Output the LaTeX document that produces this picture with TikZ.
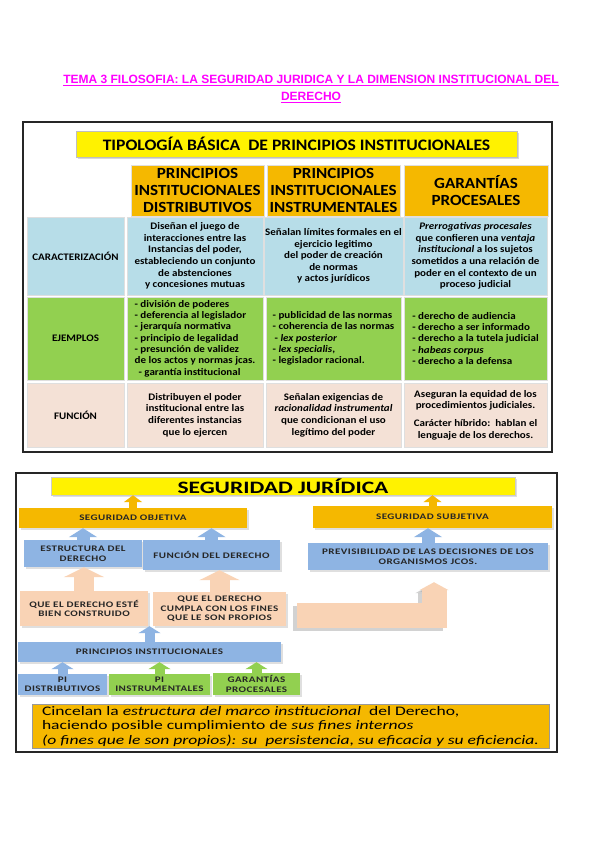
\documentclass[tikz,border=0pt]{standalone}
\usepackage{fontspec}
\setmainfont{Carlito}
\newfontfamily\tablefont[FakeStretch=1.1]{Carlito}
\newfontfamily\smartfont[FakeStretch=1.3,LetterSpace=5]{Carlito}
\newfontfamily\widefont[FakeStretch=1.35]{Carlito}
\newfontfamily\titlefont{Liberation Sans}
\usepackage{xcolor}
\usepackage{tikz}
\usetikzlibrary{arrows.meta,positioning,calc,shadows}
\definecolor{temamagenta}{HTML}{FF00FF}
\definecolor{headorange}{HTML}{F5B800}
\definecolor{caractblue}{HTML}{B7DDE8}
\definecolor{ejemgreen}{HTML}{92D050}
\definecolor{funcpeach}{HTML}{F4E1D6}
\definecolor{smartblue}{HTML}{8EB4E3}
\definecolor{smartpeach}{HTML}{F9D3B5}

\begin{document}
\begin{tikzpicture}[
    x=1pt, y=-1pt,
    >=Latex,
    temabox/.style={text=temamagenta, inner sep=0pt, font=\titlefont\bfseries\fontsize{12}{15}\selectfont},
    framebox/.style={draw=black!85, line width=2.6pt, fill=white},
    tabletitle/.style={fill=yellow, draw=black!25, inner sep=0pt, font=\tablefont\bfseries\fontsize{16}{18}\selectfont},
    headbox/.style={fill=headorange, draw=white!75!gray, align=center, inner sep=1pt, font=\tablefont\bfseries\fontsize{15.5}{17}\selectfont},
    cellbox/.style={draw=white!75!gray, align=center, inner sep=1pt, font=\tablefont\bfseries\fontsize{10}{11.6}\selectfont},
    caractbox/.style={cellbox, fill=caractblue},
    ejembox/.style={cellbox, fill=ejemgreen, align=left, font=\tablefont\bfseries\fontsize{10}{11.3}\selectfont},
    funcbox/.style={cellbox, fill=funcpeach},
    smartbox/.style={align=center, inner sep=1pt, text=black!85, font=\smartfont\bfseries\fontsize{8.5}{9.5}\selectfont, drop shadow={opacity=0.25, shadow xshift=1.5pt, shadow yshift=-1.5pt}},
    segbox/.style={smartbox, fill=headorange},
    bluebox/.style={smartbox, fill=smartblue},
    peachbox/.style={smartbox, fill=smartpeach},
    greenbox/.style={smartbox, fill=ejemgreen},
    notebox/.style={fill=headorange, draw=black!40, align=left, inner sep=2pt, font=\widefont\fontsize{13}{14.5}\selectfont},
    blockarrow/.style n args={4}{draw=#1, line width=#2, -{Triangle[width=#3, length=#4]}}
]
\fill[white] (0,0) rectangle (600,848);

% title
\node[temabox, anchor=base] (tema) at (311,84) {\underline{TEMA 3 FILOSOFIA: LA SEGURIDAD JURIDICA Y LA DIMENSION INSTITUCIONAL DEL}};
\node[temabox, anchor=base] (temader) at (311,101) {\underline{DERECHO}};

% table
\draw[framebox] (23,122) rectangle (552,452);
\node[tabletitle, minimum width=441pt, minimum height=26pt, drop shadow={opacity=0.3, shadow xshift=1.5pt, shadow yshift=-1.5pt}] (tipo) at (296.5,144) {TIPOLOGÍA BÁSICA\ \ DE PRINCIPIOS INSTITUCIONALES};

\node[headbox, minimum width=133pt, minimum height=51pt] (hdist) at (197.5,190.5) {PRINCIPIOS\\INSTITUCIONALES\\DISTRIBUTIVOS};
\node[headbox, minimum width=133pt, minimum height=51pt] (hinst) at (333.5,190.5) {PRINCIPIOS\\INSTITUCIONALES\\INSTRUMENTALES};
\node[headbox, minimum width=144pt, minimum height=51pt] (hgar) at (476,190.5) {GARANTÍAS\\PROCESALES};

\node[caractbox, minimum width=97pt, minimum height=78pt] (lcar) at (75.5,256) {CARACTERIZACIÓN};
\node[caractbox, minimum width=136pt, minimum height=78pt] (cdist) at (195,256) {Diseñan el juego de\\interacciones entre las\\Instancias del poder,\\estableciendo un conjunto\\de abstenciones\\y concesiones mutuas};
\node[caractbox, minimum width=135pt, minimum height=78pt] (cinst) at (333.5,256) {Señalan límites formales en el\\ejercicio legitimo\\del poder de creación\\de normas\\y actos jurídicos};
\node[caractbox, minimum width=143pt, minimum height=78pt] (cgar) at (475.5,256) {\textit{Prerrogativas procesales}\\que confieren una \textit{ventaja}\\\textit{institucional} a los sujetos\\sometidos a una relación de\\poder en el contexto de un\\proceso judicial};

\node[ejembox, align=center, minimum width=97pt, minimum height=83pt] (lejem) at (75.5,338.5) {EJEMPLOS};
\node[ejembox, minimum width=136pt, minimum height=83pt] (edist) at (195,338.5) {- división de poderes\\- deferencia al legislador\\- jerarquía normativa\\- principio de legalidad\\- presunción de validez\\de los actos y normas jcas.\\\hspace{4pt}- garantía institucional};
\node[ejembox, minimum width=135pt, minimum height=83pt] (einst) at (333.5,338.5) {- publicidad de las normas\\- coherencia de las normas\\\hspace{2pt}- \textit{lex posterior}\\- \textit{lex specialis},\\- legislador racional.};
\node[ejembox, minimum width=143pt, minimum height=83pt] (egar) at (475.5,338.5) {- derecho de audiencia\\- derecho a ser informado\\- derecho a la tutela judicial\\- \textit{habeas corpus}\\- derecho a la defensa};

\node[funcbox, minimum width=97pt, minimum height=64pt] (lfunc) at (75.5,415) {FUNCIÓN};
\node[funcbox, minimum width=136pt, minimum height=64pt] (fdist) at (195,415) {Distribuyen el poder\\institucional entre las\\diferentes instancias\\que lo ejercen};
\node[funcbox, minimum width=135pt, minimum height=64pt] (finst) at (333.5,415) {Señalan exigencias de\\\textit{racionalidad instrumental}\\que condicionan el uso\\legítimo del poder};
\node[funcbox, minimum width=143pt, minimum height=64pt] (fgar) at (475.5,415) {Aseguran la equidad de los\\procedimientos judiciales.\\[6pt]Carácter híbrido:\ \ hablan el\\lenguaje de los derechos.};

% seguridad juridica
\draw[framebox] (16,473) rectangle (557,752);
\node[fill=yellow, draw=black!20, inner sep=0pt, minimum width=464pt, minimum height=18pt, font=\widefont\bfseries\fontsize{17.4}{20}\selectfont, drop shadow={opacity=0.25, shadow xshift=1.5pt, shadow yshift=-1.5pt}] (segjur) at (283,486) {SEGURIDAD JURÍDICA};

\node[segbox, minimum width=228pt, minimum height=20pt] (segobj) at (133,518) {SEGURIDAD OBJETIVA};
\node[segbox, minimum width=239pt, minimum height=22pt] (segsubj) at (432.5,517) {SEGURIDAD SUBJETIVA};
\node[bluebox, minimum width=118pt, minimum height=27pt] (estruc) at (83,553.5) {ESTRUCTURA DEL\\DERECHO};
\node[bluebox, minimum width=137pt, minimum height=30pt] (funcder) at (211.5,555) {FUNCIÓN DEL DERECHO};
\node[bluebox, minimum width=240pt, minimum height=27pt] (previs) at (428,556.5) {PREVISIBILIDAD DE LAS DECISIONES DE LOS\\ORGANISMOS JCOS.};
\node[peachbox, minimum width=128pt, minimum height=35pt] (construido) at (84,608.5) {QUE EL DERECHO ESTÉ\\BIEN CONSTRUIDO};
\node[peachbox, minimum width=133pt, minimum height=34pt] (cumpla) at (219.5,609) {QUE EL DERECHO\\CUMPLA CON LOS FINES\\QUE LE SON PROPIOS};
\node[bluebox, minimum width=263pt, minimum height=20pt] (princip) at (149.5,652) {PRINCIPIOS INSTITUCIONALES};
\node[bluebox, minimum width=89pt, minimum height=21pt] (pidist) at (62.5,684.5) {PI\\DISTRIBUTIVOS};
\node[greenbox, minimum width=101pt, minimum height=21pt] (piinst) at (159.5,684.5) {PI\\INSTRUMENTALES};
\node[greenbox, minimum width=87pt, minimum height=22pt] (garant) at (256.5,684) {GARANTÍAS\\PROCESALES};

\node[notebox, minimum width=517pt, minimum height=43pt] (cincelan) at (290.5,726.5) {Cincelan la \textit{estructura del marco institucional}\ \ del Derecho,\\haciendo posible cumplimiento de \textit{sus fines internos}\\\textit{(o fines que le son propios): su\ \ persistencia, su eficacia y su eficiencia.}};

% block arrows
\draw[blockarrow={headorange}{8pt}{18pt}{7pt}] (segobj.north) -- (segobj.north |- segjur.south);
\draw[blockarrow={headorange}{8pt}{18pt}{7pt}] (segsubj.north) -- (segsubj.north |- segjur.south);
\draw[blockarrow={smartblue}{13pt}{28pt}{9pt}] (estruc.north) -- (estruc.north |- segobj.south);
\draw[blockarrow={smartblue}{13pt}{28pt}{9pt}] (funcder.north) -- (funcder.north |- segobj.south);
\draw[blockarrow={smartblue}{13pt}{28pt}{9pt}] (previs.north) -- (previs.north |- segsubj.south);
\draw[blockarrow={smartpeach}{20pt}{40pt}{10pt}] (construido.north) -- (construido.north |- estruc.south);
\draw[blockarrow={smartpeach}{20pt}{40pt}{10pt}] (cumpla.north) -- (cumpla.north |- funcder.south);
\draw[blockarrow={smartblue}{10pt}{22pt}{7pt}] (princip.north) -- (princip.north |- cumpla.south);
\draw[blockarrow={smartblue}{10pt}{22pt}{7pt}] (pidist.north) -- (pidist.north |- princip.south);
\draw[blockarrow={ejemgreen}{10pt}{22pt}{7pt}] (piinst.north) -- (piinst.north |- princip.south);
\draw[blockarrow={ejemgreen}{10pt}{22pt}{7pt}] (garant.north) -- (garant.north |- princip.south);

% bent arrow towards previsibilidad
\coordinate (bendstart) at ([xshift=11pt, yshift=-6pt]cumpla.east);
\coordinate (bendtip) at ([xshift=6pt, yshift=-12pt]previs.south);
\draw[blockarrow={black!35}{25pt}{29pt}{8pt}, opacity=0.5, transform canvas={xshift=-4pt, yshift=-3pt}] (bendstart) -| (bendtip);
\draw[blockarrow={smartpeach}{25pt}{29pt}{8pt}] (bendstart) -| (bendtip);
\end{tikzpicture}
\end{document}
